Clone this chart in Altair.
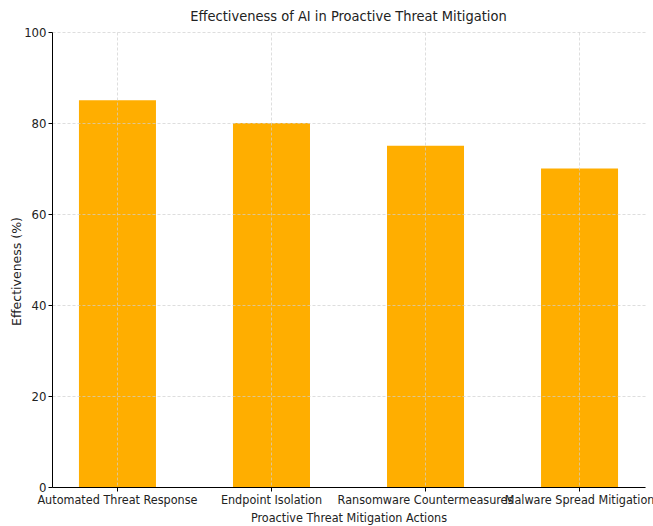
import altair as alt
import pandas as pd

actions = ["Automated Threat Response", "Endpoint Isolation", "Ransomware Countermeasures", "Malware Spread Mitigation"]
effectiveness = [85, 80, 75, 70]

df = pd.DataFrame({"action": actions, "eff": effectiveness})

FONT = "DejaVu Sans Condensed, Liberation Sans Narrow, Liberation Sans, sans-serif"

chart = alt.Chart(df).mark_bar(color="#FFAE00").encode(
    x=alt.X("action:N", sort=actions,
            scale=alt.Scale(paddingInner=0.5, paddingOuter=0.175),
            axis=alt.Axis(title="Proactive Threat Mitigation Actions", labelAngle=0,
                          labelOverlap=False, labelBound=False, labelFlush=False,
                          grid=True, bandPosition=0.5, zindex=1,
                          labelFontSize=12.5, titleFontSize=12.5, titlePadding=6,
                          labelPadding=2)),
    y=alt.Y("eff:Q", scale=alt.Scale(domain=[0, 100], nice=False),
            axis=alt.Axis(title="Effectiveness (%)", values=[0, 20, 40, 60, 80, 100],
                          grid=True, zindex=1, labelFontSize=13, titleFontSize=12.5,
                          titleFont="DejaVu Sans", titleX=-29, titleY=239,
                          labelPadding=2)),
).properties(
    width=593, height=455,
    title=alt.TitleParams("Effectiveness of AI in Proactive Threat Mitigation", fontSize=14.5,
                          font=FONT, fontWeight="normal", color="#222222", offset=2),
    autosize=alt.AutoSizeParams(type="none"),
    padding={"left": 52, "top": 32, "right": 8, "bottom": 39},
).configure_view(stroke=None).configure_axis(
    labelFont=FONT, titleFont=FONT, labelColor="#222222", titleColor="#222222",
    titleFontWeight="normal", domainColor="#000000", tickColor="#000000",
    tickSize=4, gridColor="#d0d0d0", gridDash=[3, 2], gridWidth=0.7,
    domainWidth=1,
)

chart.save("out.html", embed_options={"renderer": "svg", "actions": False})
